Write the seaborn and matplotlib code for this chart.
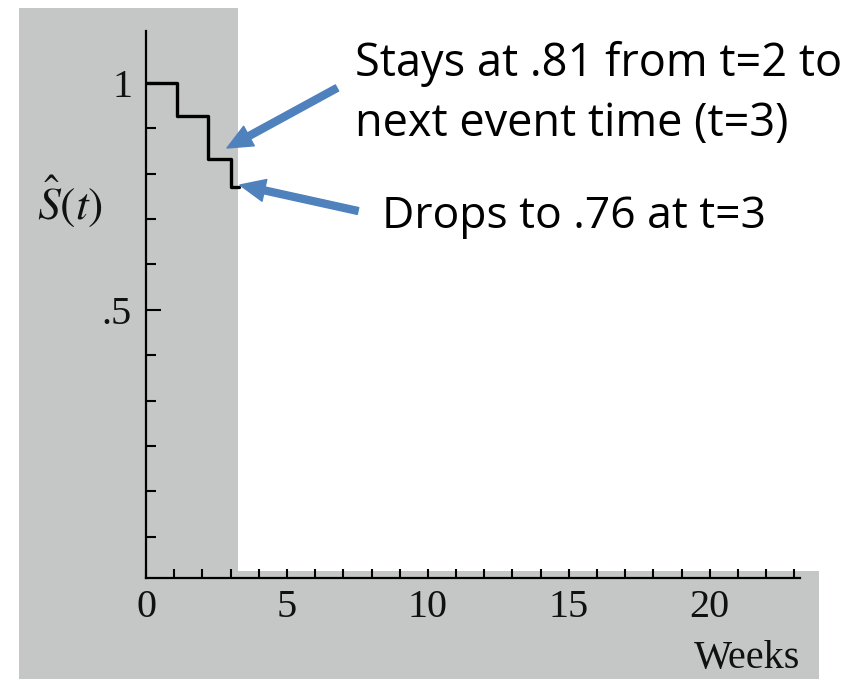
import numpy as np
import pandas as pd
import seaborn as sns
import matplotlib.pyplot as plt
from matplotlib.patches import Rectangle, FancyArrowPatch

# ---- data ----
weeks = [0.0, 1.1, 2.2, 3.0, 3.3]
survival = [1.0, 0.926, 0.833, 0.771, 0.771]
x_major = [0, 5, 10, 15, 20]
x_minor = list(range(0, 24))
y_major = [0.5, 1.0]
y_major_labels = [".5", "1"]
y_minor = [0.0, 0.1, 0.2, 0.3, 0.4, 0.6, 0.7, 0.8, 0.9]
note1_lines = ["Stays at .81 from t=2 to", "next event time (t=3)"]
note2 = "Drops to .76 at t=3"
xlabel = "Weeks"
ylabel = r"$\hat{S}(t)$"

W, H = 858, 679
GRAY = "#c5c6c6"
BLUE = "#4f81bd"

sns.set_style("ticks")
plt.rcParams["mathtext.fontset"] = "stix"

fig = plt.figure(figsize=(W / 100, H / 100), dpi=100)
fig.patch.set_facecolor("white")


def fx(px):
    return px / W


def fy(py):
    return 1 - py / H


# gray slide background regions
fig.patches.append(Rectangle((fx(19), fy(571)), fx(238) - fx(19), fy(8) - fy(571),
                             transform=fig.transFigure, facecolor=GRAY, edgecolor="none", zorder=-2))
fig.patches.append(Rectangle((fx(19), 0), fx(819) - fx(19), fy(571),
                             transform=fig.transFigure, facecolor=GRAY, edgecolor="none", zorder=-2))

ax = fig.add_axes([fx(146), fy(578), fx(800) - fx(146), fy(31) - fy(578)])
ax.set_facecolor("none")

df = pd.DataFrame({"weeks": weeks, "survival": survival})
sns.lineplot(data=df, x="weeks", y="survival", drawstyle="steps-post", color="black",
             lw=2.4, ax=ax, sort=False, estimator=None)

ax.set_xlim(0, 23.2)
ax.set_ylim(-0.0905, 1.114)
ax.set_xlabel("")
ax.set_ylabel("")
for s in ["top", "right"]:
    ax.spines[s].set_visible(False)
for s in ["left", "bottom"]:
    ax.spines[s].set_linewidth(1.6)
    ax.spines[s].set_color("black")

ax.set_xticks(x_major)
ax.set_xticklabels([str(v) for v in x_major], fontfamily="Liberation Serif", fontsize=29, color="#111111")
ax.set_xticks(x_minor, minor=True)
ax.set_yticks(y_major)
ax.set_yticklabels(y_major_labels, fontfamily="Liberation Serif", fontsize=29, color="#111111")
ax.set_yticks(y_minor, minor=True)

ax.tick_params(which="both", direction="in", color="black", width=1.5)
ax.tick_params(axis="x", which="both", length=6.5, pad=8)
ax.tick_params(axis="y", which="major", length=11, pad=10)
ax.tick_params(axis="y", which="minor", length=7.2)

fig.text(fx(800), fy(668), xlabel, ha="right", va="baseline",
         fontfamily="Liberation Serif", fontsize=29, color="#111111")
fig.text(fx(70), fy(201), ylabel, ha="center", va="center", fontsize=33, color="#111111")

fig.text(fx(355), fy(76), note1_lines[0], ha="left", va="baseline", fontfamily="Open Sans", fontsize=32.5, color="black")
fig.text(fx(355), fy(136), note1_lines[1], ha="left", va="baseline", fontfamily="Open Sans", fontsize=32.5, color="black")
fig.text(fx(382), fy(228), note2, ha="left", va="baseline", fontfamily="Open Sans", fontsize=32, color="black")

style = "simple,head_length=0.9,head_width=0.8,tail_width=0.25"
for (x0, y0), (x1, y1) in [((337, 88), (227, 148)), ((358, 211), (240, 185))]:
    arr = FancyArrowPatch((fx(x0), fy(y0)), (fx(x1), fy(y1)), transform=fig.transFigure,
                          arrowstyle=style, mutation_scale=20, color=BLUE,
                          shrinkA=0, shrinkB=0, zorder=5)
    fig.patches.append(arr)

fig.savefig("out.png", dpi=100, facecolor="white")
